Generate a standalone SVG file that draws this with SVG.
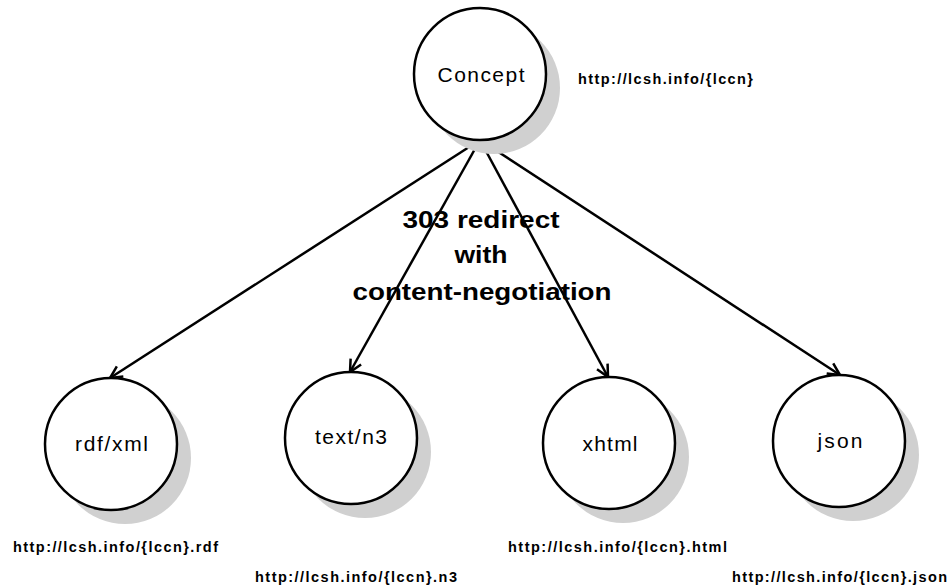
<svg xmlns="http://www.w3.org/2000/svg" width="951" height="586" viewBox="0 0 951 586">
<defs>
<style>
.shadow{fill:#d0d0d0;stroke:none}
.node{fill:#fff;stroke:#000;stroke-width:2.5}
.lbl{font-family:"Liberation Sans",Arial,sans-serif;font-size:21px;fill:#000;text-anchor:middle}
.url{font-family:"Liberation Sans",Arial,sans-serif;font-size:14.5px;font-weight:bold;fill:#000}
.mid{font-family:"Liberation Sans",Arial,sans-serif;font-size:23px;font-weight:bold;fill:#000;text-anchor:middle}
.edge{stroke:#000;stroke-width:2.5;fill:none}
</style>
<marker id="arr" markerUnits="userSpaceOnUse" markerWidth="16" markerHeight="16" refX="13" refY="7" orient="auto" viewBox="0 0 16 14">
<path d="M1,1 L13,7 L1,13" fill="none" stroke="#000" stroke-width="2.5"/>
</marker>
</defs>
<rect width="951" height="586" fill="#fff"/>
<g id="connectors">
<line class="edge" x1="480" y1="140" x2="110" y2="378" marker-end="url(#arr)"/>
<line class="edge" x1="480" y1="140" x2="350" y2="372" marker-end="url(#arr)"/>
<line class="edge" x1="480" y1="140" x2="608" y2="377" marker-end="url(#arr)"/>
<line class="edge" x1="480" y1="140" x2="840" y2="375" marker-end="url(#arr)"/>
</g>
<g id="concept">
<circle class="shadow" cx="494" cy="88" r="66"/>
<circle class="node" cx="480" cy="74" r="66"/>
<text class="lbl" x="481" y="82" textLength="87" lengthAdjust="spacing">Concept</text>
</g>
<text class="url" x="578" y="84" textLength="175" lengthAdjust="spacing">http://lcsh.info/{lccn}</text>
<g id="edge-label">
<text class="mid" x="481" y="228" textLength="157" lengthAdjust="spacingAndGlyphs">303 redirect</text>
<text class="mid" x="481" y="263" textLength="53" lengthAdjust="spacingAndGlyphs">with</text>
<text class="mid" x="482" y="300" textLength="259" lengthAdjust="spacingAndGlyphs">content-negotiation</text>
</g>
<g id="rdfxml">
<circle class="shadow" cx="125" cy="458" r="66"/>
<circle class="node" cx="111" cy="444" r="66"/>
<text class="lbl" x="111.5" y="451" textLength="73" lengthAdjust="spacing">rdf/xml</text>
</g>
<g id="textn3">
<circle class="shadow" cx="365" cy="452" r="66"/>
<circle class="node" cx="351" cy="438" r="66"/>
<text class="lbl" x="351" y="444" textLength="72" lengthAdjust="spacing">text/n3</text>
</g>
<g id="xhtml">
<circle class="shadow" cx="623" cy="457" r="66"/>
<circle class="node" cx="609" cy="443" r="66"/>
<text class="lbl" x="610" y="451" textLength="55" lengthAdjust="spacing">xhtml</text>
</g>
<g id="json">
<circle class="shadow" cx="853" cy="455" r="66"/>
<circle class="node" cx="839" cy="441" r="66"/>
<text class="lbl" x="840" y="448" textLength="45" lengthAdjust="spacing">json</text>
</g>
<text class="url" x="13" y="552" textLength="205" lengthAdjust="spacing">http://lcsh.info/{lccn}.rdf</text>
<text class="url" x="255" y="582" textLength="202" lengthAdjust="spacing">http://lcsh.info/{lccn}.n3</text>
<text class="url" x="508" y="552" textLength="219" lengthAdjust="spacing">http://lcsh.info/{lccn}.html</text>
<text class="url" x="732" y="582" textLength="215" lengthAdjust="spacing">http://lcsh.info/{lccn}.json</text>
</svg>
